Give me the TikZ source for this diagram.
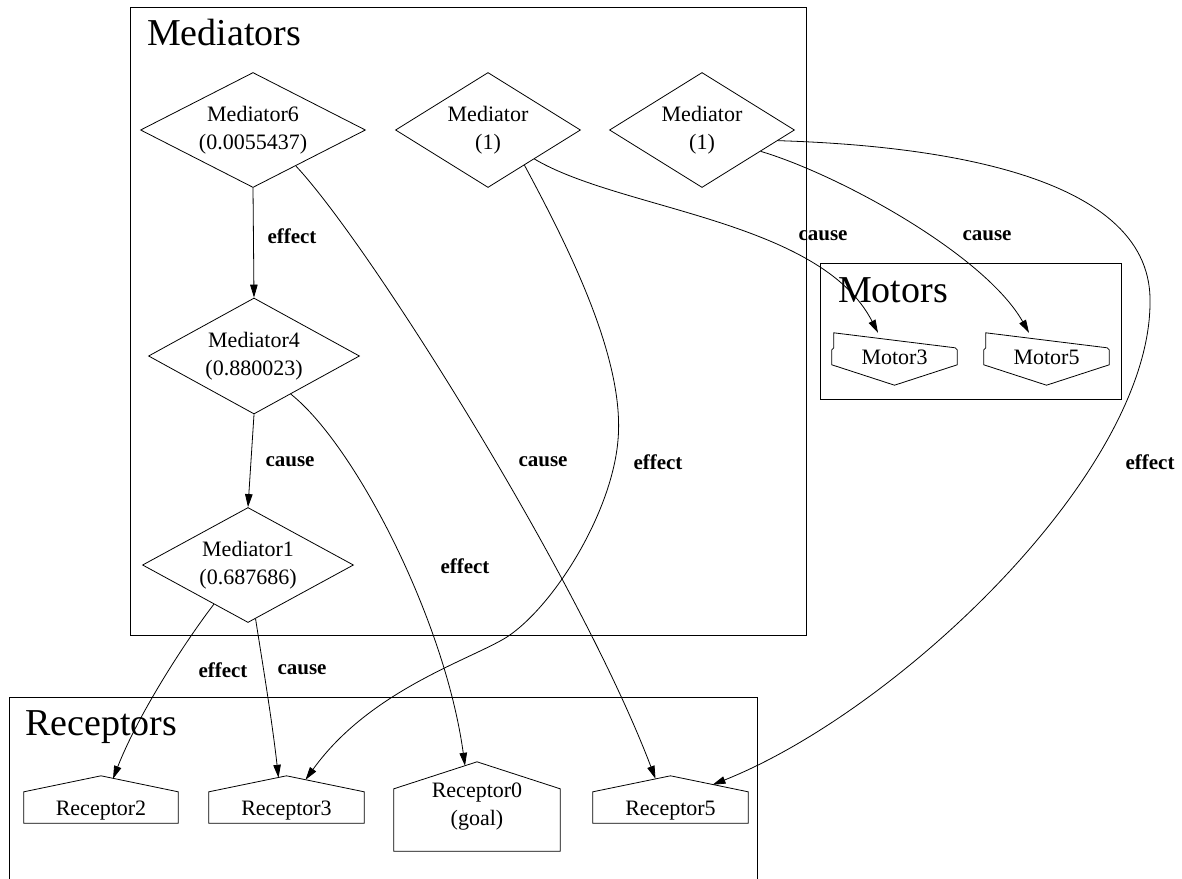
\documentclass[tikz,border=0pt]{standalone}
\usepackage{fontspec}
\setmainfont{Liberation Serif}
\usetikzlibrary{arrows.meta,shapes.geometric}

\tikzset{
  every node/.style={font=\fontsize{22}{28}\selectfont},
  cluster/.style={draw, line width=1pt},
  title/.style={anchor=base west, inner sep=0pt, font=\fontsize{38}{38}\selectfont},
  mediator/.style={shape=diamond, draw, line width=0.8pt, aspect=2, inner sep=0pt,
                   align=center, minimum height=115pt},
  housebox/.style={rectangle, inner sep=0pt, minimum height=#1},
  motorbox/.style={rectangle, inner sep=0pt, minimum width=121pt, minimum height=52pt, text depth=4pt},
  edge/.style={line width=0.8pt, -{Triangle[length=13pt,width=7.5pt]}},
  elabel/.style={font=\bfseries\fontsize{21}{21}\selectfont, inner sep=0pt},
}

% house outline (pointed roof) around a rectangular node
\newcommand\roofoutline[2]{%
  \draw[line width=0.8pt] (#1.south west) -- ([yshift=-#2]#1.north west) -- (#1.north)
    -- ([yshift=-#2]#1.north east) -- (#1.south east) -- cycle;}
% inverted house outline (pointed bottom) around a rectangular node
\newcommand\motoroutline[1]{%
  \draw[line width=0.8pt] (#1.north west) -- ([yshift=-15pt]#1.north west)
    -- ([xshift=-2pt,yshift=-17pt]#1.north west) -- ([xshift=-2pt,yshift=-32pt]#1.north west)
    -- (#1.south) -- ([xshift=2pt,yshift=-32pt]#1.north east)
    -- ([xshift=2pt,yshift=-17pt]#1.north east) -- ([yshift=-15pt]#1.north east) -- cycle;}

\begin{document}
\begin{tikzpicture}[x=1pt, y=-1pt]
\useasboundingbox (0,0) rectangle (1182,878);
\clip (0,0) rectangle (1182,878);
\fill[white] (0,0) rectangle (1182,878);

% clusters
\draw[cluster] (130,7) rectangle (806,635);
\node[title] (tMed) at (147,45) {Mediators};
\draw[cluster] (820,263) rectangle (1121,399);
\node[title] (tMot) at (838,302) {Motors};
\draw[cluster] (9,697) rectangle (757,900);
\node[title] (tRec) at (25,735) {Receptors};

% mediators
\node[mediator, minimum width=225pt] (M6) at (253,130) {Mediator6\\(0.0055437)};
\node[mediator, minimum width=185pt] (Mm) at (488,130) {Mediator\\(1)};
\node[mediator, minimum width=185pt] (Mr) at (702,130) {Mediator\\(1)};
\node[mediator, minimum width=211pt, minimum height=116pt] (M4) at (254,356) {Mediator4\\(0.880023)};
\node[mediator, minimum width=211pt] (M1) at (248,565) {Mediator1\\(0.687686)};

% motors
\node[motorbox] (M3) at (894.5,359) {Motor3};
\node[motorbox] (M5) at (1046.5,359) {Motor5};
\motoroutline{M3}
\motoroutline{M5}

% receptors
\node[housebox=47pt, minimum width=154pt, text height=31pt, text depth=0pt] (R2) at (101,799.5) {Receptor2};
\node[housebox=47pt, minimum width=155pt, text height=31pt, text depth=0pt] (R3) at (286.5,799.5) {Receptor3};
\node[housebox=89pt, minimum width=166pt, align=center] (R0) at (477,806.5) {Receptor0\\(goal)};
\node[housebox=47pt, minimum width=155pt, text height=31pt, text depth=0pt] (R5) at (670.5,799.5) {Receptor5};
\roofoutline{R2}{16pt}
\roofoutline{R3}{16pt}
\roofoutline{R0}{27pt}
\roofoutline{R5}{16pt}

% connectors
\draw[edge] (M6.south) -- (M4.north);
\draw[edge] (M4.south) -- (M1.north);
\draw[edge] (M1.-131) .. controls (190,635) and (140,710) .. ([xshift=12pt,yshift=-3pt]R2.north);
\draw[edge] (M1.-82) .. controls (262,660) and (272,720) .. ([xshift=-8pt,yshift=-2pt]R3.north);
\draw[edge] (M4.-46) .. controls (355,445) and (445,620) .. ([xshift=-12pt,yshift=-4pt]R0.north);
\draw[edge] (M6.-40) .. controls (370,245) and (580,580) .. ([xshift=-15pt,yshift=-3pt]R5.north);
\draw[edge] (Mm.-44) .. controls (570,250) and (625,360) .. (618,440)
  .. controls (612,512) and (555,605) .. (507,637)
  .. controls (470,660) and (370,690) .. ([xshift=19pt,yshift=-4pt]R3.north);
\draw[edge] (Mm.-32) .. controls (620,210) and (820,220) .. ([xshift=-16.5pt]M3.north);
\draw[edge] (Mr.-20) .. controls (840,175) and (985,255) .. ([xshift=-17.5pt]M5.north);
\draw[edge] (Mr.-8) .. controls (920,145) and (1150,170) .. (1150,300)
  .. controls (1152,470) and (900,710) .. ([xshift=42pt,yshift=-9pt]R5.north);

% connector labels
\node[elabel] (l1) at (292,236) {effect};
\node[elabel] (l2) at (290,462) {cause};
\node[elabel] (l3) at (223,670) {effect};
\node[elabel] (l4) at (302,670) {cause};
\node[elabel] (l5) at (465,566) {effect};
\node[elabel] (l6) at (543,462) {cause};
\node[elabel] (l7) at (658,462) {effect};
\node[elabel] (l8) at (823,236) {cause};
\node[elabel] (l9) at (987,236) {cause};
\node[elabel] (l10) at (1150,462) {effect};
\end{tikzpicture}
\end{document}
